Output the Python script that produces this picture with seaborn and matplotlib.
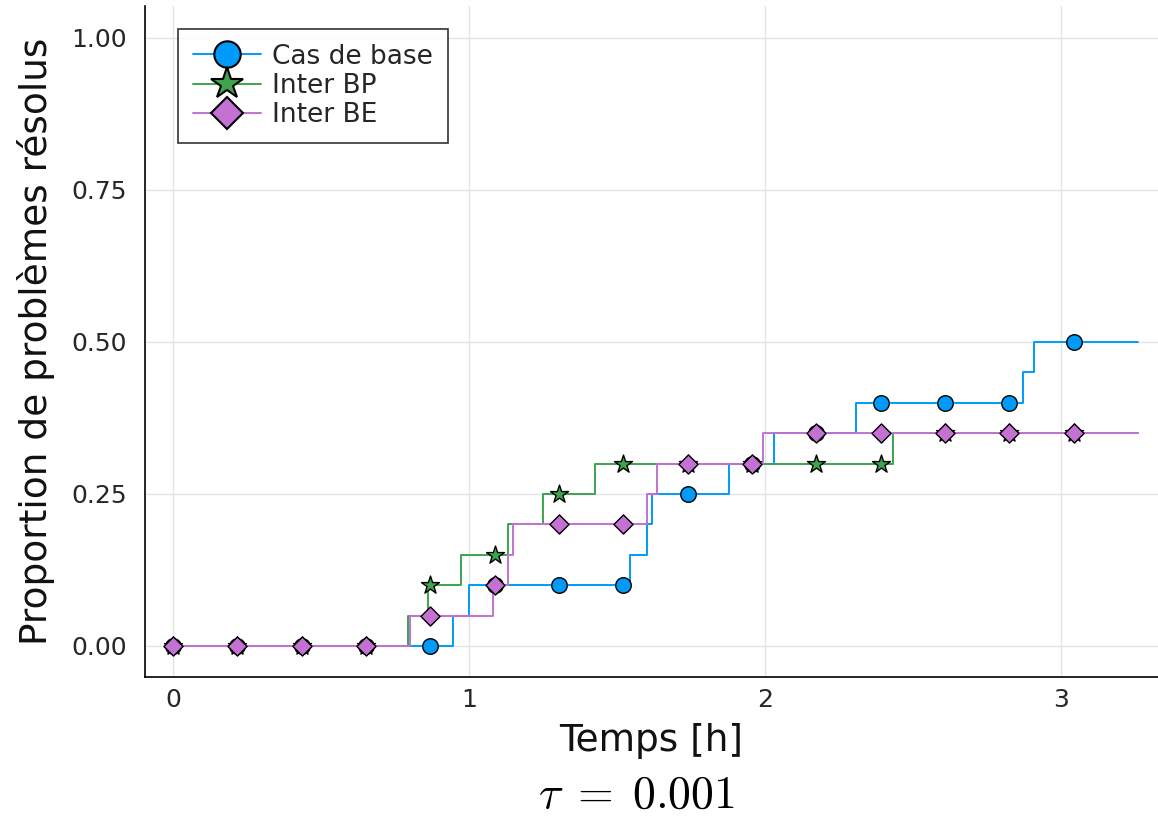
import numpy as np
import pandas as pd
import matplotlib
matplotlib.use("Agg")
import matplotlib.pyplot as plt
from matplotlib.lines import Line2D
import seaborn as sns

# Step curves: time [h] at which each new proportion level is reached
temps_base = [0.0, 0.946, 1.0, 1.544, 1.60, 1.618, 1.878, 2.03, 2.307, 2.872, 2.909, 3.26]
prop_base = [0.0, 0.05, 0.10, 0.15, 0.20, 0.25, 0.30, 0.35, 0.40, 0.45, 0.50, 0.50]

temps_bp = [0.0, 0.794, 0.862, 0.973, 1.132, 1.25, 1.426, 2.432, 3.26]
prop_bp = [0.0, 0.05, 0.10, 0.15, 0.20, 0.25, 0.30, 0.35, 0.35]

temps_be = [0.0, 0.80, 1.08, 1.13, 1.149, 1.60, 1.635, 1.993, 3.26]
prop_be = [0.0, 0.05, 0.10, 0.15, 0.20, 0.25, 0.30, 0.35, 0.35]

labels = ["Cas de base", "Inter BP", "Inter BE"]
colors = ["#009AFA", "#3EA44E", "#C371D2"]
markers = ["o", "*", "D"]
marker_sizes = [125, 185, 95]

# Marker sampling times along the curves
n_marks = 15
t_end = 3.26
marker_times = np.arange(n_marks) * t_end / n_marks

sns.set_theme(style="white")
plt.rcParams["font.family"] = ["DejaVu Sans"]
plt.rcParams["mathtext.fontset"] = "cm"

fig = plt.figure(figsize=(11.58, 8.16), dpi=100)
ax = fig.add_axes([145 / 1158, 1 - 677 / 816, 1013 / 1158, 671 / 816])

series = [(temps_base, prop_base), (temps_bp, prop_bp), (temps_be, prop_be)]
for k, ((t, p), lab) in enumerate(zip(series, labels)):
    df = pd.DataFrame({"t": t, "p": p})
    sns.lineplot(data=df, x="t", y="p", drawstyle="steps-post", color=colors[k],
                 linewidth=1.4, estimator=None, sort=False, ax=ax, zorder=2 + k)
    idx = np.searchsorted(np.asarray(t), marker_times, side="right") - 1
    dm = pd.DataFrame({"t": marker_times, "p": np.asarray(p)[idx]})
    sns.scatterplot(data=dm, x="t", y="p", marker=markers[k], s=marker_sizes[k],
                    color=colors[k], edgecolor="black", linewidth=1.0, ax=ax,
                    zorder=5 + k)

ax.set_xlim(-0.095, 3.328)
ax.set_ylim(-0.051, 1.0525)
ax.set_xticks([0, 1, 2, 3])
ax.set_yticks([0.0, 0.25, 0.5, 0.75, 1.0])
ax.set_yticklabels(["0.00", "0.25", "0.50", "0.75", "1.00"])
ax.grid(True, color="#e4e4e4", linewidth=1.0)
ax.set_axisbelow(True)

for side in ["top", "right"]:
    ax.spines[side].set_visible(False)
for side in ["left", "bottom"]:
    ax.spines[side].set_color("black")
    ax.spines[side].set_linewidth(1.2)

ax.tick_params(axis="both", direction="in", length=6, width=1.0, colors="black",
               labelsize=18, labelcolor="#262626")
ax.tick_params(axis="y", pad=13)
ax.tick_params(axis="x", pad=8)

ax.set_xlabel("Temps [h]", fontsize=27, labelpad=8, color="#111111")
ax.set_ylabel("Proportion de problèmes résolus", fontsize=27, labelpad=12,
              color="#111111")

handles = [
    Line2D([0], [0], color=colors[k], linewidth=1.4, marker=markers[k],
           markersize=[19, 24, 16][k], markerfacecolor=colors[k],
           markeredgecolor="black", markeredgewidth=1.5)
    for k in range(3)
]
leg = ax.legend(handles, labels, loc="upper left", bbox_to_anchor=(0.0326, 0.966),
                borderaxespad=0, fontsize=19, frameon=True, fancybox=False,
                handlelength=2.6, handletextpad=0.4, labelspacing=0.12,
                borderpad=0.56)
leg.get_frame().set_edgecolor("black")
leg.get_frame().set_linewidth(1.2)

fig.text(636 / 1158, 1 - 795 / 816, r"$\tau\;=\;0.001$", fontsize=33,
         ha="center", va="center", color="black")

fig.savefig("out.png", dpi=100, facecolor="white")
